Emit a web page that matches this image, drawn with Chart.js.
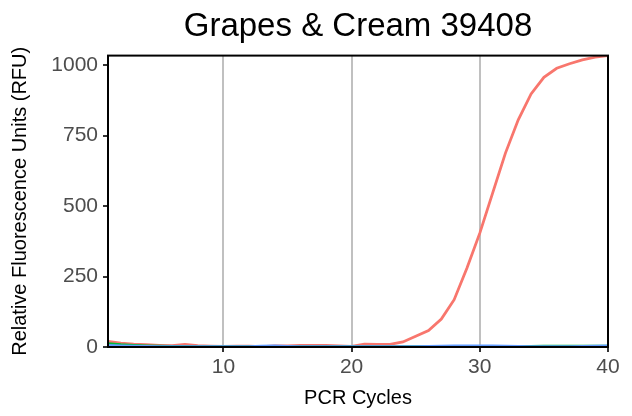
<!DOCTYPE html>
<html>
<head>
<meta charset="utf-8">
<script src="https://cdn.jsdelivr.net/npm/chart.js@4/dist/chart.umd.min.js"></script>
<style>
  html, body { margin: 0; padding: 0; background: #fff; }
  #wrap { width: 632px; height: 416px; }
</style>
</head>
<body>
<div id="wrap"><canvas id="myChart" width="632" height="416"></canvas></div>
<script>
// PCR cycle numbers
const cycles = [1, 2, 3, 4, 5, 6, 7, 8, 9, 10, 11, 12, 13, 14, 15, 16, 17, 18, 19, 20,
  21, 22, 23, 24, 25, 26, 27, 28, 29, 30, 31, 32, 33, 34, 35, 36, 37, 38, 39, 40];

// fluorescence readings (RFU)
const redRfu = [20, 14, 10, 8, 6, 5, 9, 5, 3, 2, 3, 3, 1, 4, 4, 6, 6, 6, 4, 2,
  10, 9, 9, 18, 38, 58, 99, 168, 280, 404, 546, 688, 806, 898, 957, 989, 1005, 1019, 1029, 1034];
const greenRfu = [12, 8, 6, 4, 3, 2, 2, 1, 1, 1, 1, 1, 1, 1, 1, 1, 1, 1, 1, 1,
  1, 1, 1, 1, 1, 1, 1, 1, 1, 1, 1, 1, 2, 2, 3, 3, 3, 3, 3, 3];
const blueRfu = [6, 4, 3, 2, 1, 1, 1, 1, 1, 1, 1, 1, 3, 4, 2, 1, 1, 1, 1, 1,
  1, 1, 1, 1, 1, 2, 3, 4, 4, 4, 4, 3, 2, 1, 1, 1, 1, 2, 3, 4];

const xTicks = [10, 20, 30, 40];
const yTicks = [0, 250, 500, 750, 1000];

const toPoints = arr => arr.map((v, i) => ({ x: cycles[i], y: v }));

// black box around the panel, like theme_bw border
const panelBorder = {
  id: 'panelBorder',
  afterDatasetsDraw(chart) {
    const { ctx, chartArea: a } = chart;
    ctx.save();
    ctx.strokeStyle = '#000';
    ctx.lineWidth = 2;
    ctx.strokeRect(a.left, a.top, a.right - a.left, a.bottom - a.top);
    ctx.restore();
  }
};

const ctx = document.getElementById('myChart').getContext('2d');
new Chart(ctx, {
  type: 'line',
  data: {
    datasets: [
      { label: 'blue', data: toPoints(blueRfu), borderColor: '#619CFF' },
      { label: 'green', data: toPoints(greenRfu), borderColor: '#00BA38' },
      { label: 'red', data: toPoints(redRfu), borderColor: '#F8766D' }
    ].map(d => Object.assign(d, { borderWidth: 2.8, pointRadius: 0, tension: 0, fill: false }))
  },
  options: {
    responsive: false,
    animation: false,
    layout: { padding: { left: 0, right: 24, top: 0, bottom: 0 } },
    plugins: {
      legend: { display: false },
      tooltip: { enabled: false },
      title: {
        display: true,
        fullSize: false,
        text: 'Grapes & Cream 39408',
        color: '#000',
        font: { family: 'Liberation Sans', size: 33, weight: 'normal' },
        padding: { top: 7, bottom: 9 }
      }
    },
    scales: {
      x: {
        type: 'linear',
        min: 1,
        max: 40,
        afterBuildTicks: s => { s.ticks = xTicks.map(v => ({ value: v })); },
        afterFit: s => { s.height = 69; },
        grid: { color: '#C0C0C0', lineWidth: 2, tickColor: '#333', tickLength: 5, drawTicks: true },
        border: { display: false },
        ticks: { color: '#4D4D4D', font: { family: 'Liberation Sans', size: 21 }, padding: 3, maxRotation: 0 },
        title: {
          display: true,
          text: 'PCR Cycles',
          color: '#000',
          font: { family: 'Liberation Sans', size: 20 },
          padding: { top: 2, bottom: 6 }
        }
      },
      y: {
        min: 0,
        max: 1034,
        afterBuildTicks: s => { s.ticks = yTicks.map(v => ({ value: v })); },
        afterFit: s => { s.width = 108; },
        grid: { drawOnChartArea: false, tickColor: '#333', tickLength: 5, lineWidth: 2 },
        border: { display: false },
        ticks: {
          color: '#4D4D4D',
          font: { family: 'Liberation Sans', size: 21 },
          padding: 5,
          callback: v => String(v)
        },
        title: {
          display: true,
          text: 'Relative Fluorescence Units (RFU)',
          color: '#000',
          font: { family: 'Liberation Sans', size: 20 },
          padding: { top: 8, bottom: 4 }
        }
      }
    }
  },
  plugins: [panelBorder]
});
</script>
</body>
</html>
